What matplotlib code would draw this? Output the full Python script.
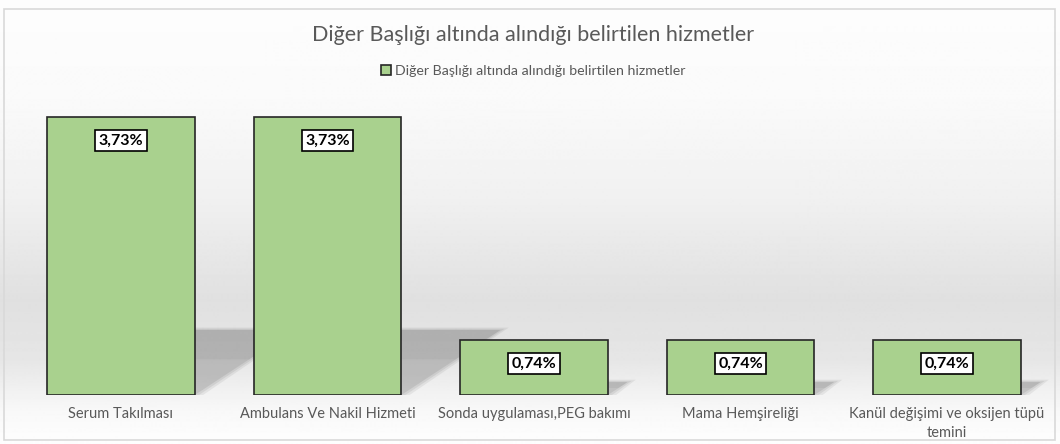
import numpy as np
import matplotlib
matplotlib.use("Agg")
import matplotlib.pyplot as plt
from matplotlib.patches import Polygon, Rectangle

title = "Diğer Başlığı altında alındığı belirtilen hizmetler"
categories = ["Serum Takılması", "Ambulans Ve Nakil Hizmeti",
              "Sonda uygulaması,PEG bakımı", "Mama Hemşireliği",
              "Kanül değişimi ve oksijen tüpü\ntemini"]
values = [3.73, 3.73, 0.74, 0.74, 0.74]
labels = ["3,73%", "3,73%", "0,74%", "0,74%", "0,74%"]

plt.rcParams['font.family'] = ['Lato', 'DejaVu Sans']

fig = plt.figure(figsize=(10.6, 4.44), dpi=100)

# background gradient over the whole figure
bg = fig.add_axes([0, 0, 1, 1], zorder=-10)
ys = np.array([0, 100, 200, 300, 360, 410, 444])
vs = np.array([253, 250, 240, 224, 230, 248, 254]) / 255.0
yy = np.arange(444)
col = np.interp(yy, ys, vs)
grad = np.repeat(col[:, None], 2, axis=1)
bg.imshow(grad, cmap='gray', vmin=0, vmax=1, aspect='auto', extent=[0, 1, 1, 0])
bg.set_xlim(0, 1)
bg.set_ylim(1, 0)
bg.axis('off')
bg.add_patch(Rectangle((4 / 1060, 9 / 444), 1051 / 1060, 431 / 444, fill=False,
                       edgecolor='#d9d9d9', lw=1.2))

ax = fig.add_axes([0.0167, 0.1104, 0.9742, 0.6711])
ax.set_xlim(-0.5, 4.5)
ax.set_ylim(0, 4)
ax.patch.set_alpha(0)
for s in ax.spines.values():
    s.set_visible(False)
ax.set_yticks([])
ax.tick_params(axis='x', length=0, pad=9)

w = 0.715
x = np.arange(len(values))
# shadows: sheared silhouette to the back right
sh_dx = 0.48
sh_k = 65 / 278
for xi, v in zip(x, values):
    top = v * sh_k
    off = sh_dx * (v / 3.73)
    poly = [(xi - w / 2, 0), (xi + w / 2, 0), (xi + w / 2 + off, top), (xi - w / 2 + off, top)]
    for k, a in enumerate([0.10, 0.12, 0.15]):
        g = 0.02 * (2 - k)
        p = [(poly[0][0], 0), (poly[1][0] + g, 0), (poly[2][0] + g, top + g * 0.8), (poly[3][0], top + g * 0.8)]
        ax.add_patch(Polygon(p, closed=True, facecolor='#606060', edgecolor='none', alpha=a, zorder=1))
    p2 = [(xi + w / 2 + off * 0.55, top * 0.55), (xi + w / 2 + off, top), (xi - w / 2 + off, top), (xi, top * 0.55)]
    ax.add_patch(Polygon(p2, closed=True, facecolor='#808080', edgecolor='none', alpha=0.12, zorder=1))

bars = ax.bar(x, values, width=w, color='#a9d18e', edgecolor='#262626', linewidth=1.2,
              zorder=3, label=title)

for xi, v, lab in zip(x, values, labels):
    ax.annotate(lab, (xi, v), xytext=(0, -17), textcoords='offset points',
                ha='center', va='center', fontsize=11.5, fontweight='bold', color='black',
                bbox=dict(boxstyle='square,pad=0.22', fc='white', ec='black', lw=1.2), zorder=5)

ax.set_xticks(x)
ax.set_xticklabels(categories, fontsize=10.5, color='#595959', linespacing=1.45)

fig.text(0.503, 0.922, title, ha='center', va='center', fontsize=15.5, color='#595959')
leg = fig.legend(loc='center', bbox_to_anchor=(0.503, 0.84), frameon=False, fontsize=10.2,
                 handlelength=0.75, handleheight=0.75, handletextpad=0.3, labelcolor='#595959')
for h in leg.legend_handles:
    h.set_edgecolor('#262626')

fig.savefig('out.png', dpi=100)
